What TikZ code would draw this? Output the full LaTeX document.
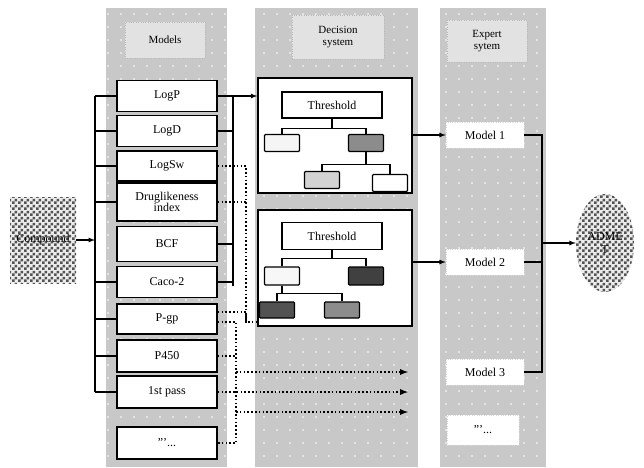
\documentclass[tikz,border=0pt]{standalone}
\usepackage{fontspec}
\setmainfont{Liberation Serif}
\usetikzlibrary{arrows,patterns.meta,shapes.geometric}

\definecolor{bandgray}{HTML}{C8C8C8}
\definecolor{headgray}{HTML}{E2E2E2}

\tikzdeclarepattern{
  name=checks, type=uncolored,
  bounding box={(0pt,0pt) and (6pt,6pt)},
  tile size={(6pt,6pt)},
  code={\fill (0pt,0pt) rectangle (3pt,3pt); \fill (3pt,3pt) rectangle (6pt,6pt);}
}

\begin{document}
\begin{tikzpicture}[x=1pt, y=-1pt, font=\rmfamily,
    headbox/.style={fill=headgray, draw=gray!55, dotted, align=center, font=\rmfamily\fontsize{11}{12}\selectfont, inner sep=0pt},
    modelbox/.style={draw, line width=1.4pt, fill=white, rectangle, minimum width=100pt, minimum height=31pt, inner sep=0pt, align=center, font=\rmfamily\fontsize{12}{12}\selectfont},
    expbox/.style={fill=white, draw=white!85!black, dotted, minimum width=78pt, minimum height=26pt, inner sep=0pt, font=\rmfamily\fontsize{12}{12}\selectfont},
    decbox/.style={draw, line width=1.4pt, fill=white, minimum width=154pt, inner sep=0pt},
    leaf/.style={draw, line width=1.2pt, rounded corners=1pt, minimum width=35pt, minimum height=17pt, inner sep=0pt},
    thrbox/.style={draw, line width=1.2pt, fill=white, minimum width=100pt, minimum height=26pt, inner sep=0pt, font=\rmfamily\fontsize{12}{12}\selectfont},
    checked/.style={fill=gray!15, postaction={pattern=checks, pattern color=gray!65!black}},
    link/.style={line width=1.2pt},
    dline/.style={line width=1.7pt, dash pattern=on 1.6pt off 2.2pt}]

\useasboundingbox (0,0) rectangle (644,467);

\fill[bandgray] (106,8) rectangle (227,467);
\fill[bandgray] (255,8) rectangle (418,467);
\fill[bandgray] (440,8) rectangle (546,467);
\begin{scope}
  \clip (106,8) rectangle (227,467) (255,8) rectangle (418,467) (440,8) rectangle (546,467);
  \foreach \y in {14,27,...,467}
    \foreach \x in {4,17,...,644}
      \fill[white] (\x,\y) circle (0.9);
\end{scope}

\node [headbox, minimum width=80pt, minimum height=36pt] (hmod) at (165,40) {Models};
\node [headbox, minimum width=92pt, minimum height=44pt] (hdec) at (338,37) {Decision\\system};
\node [headbox, minimum width=80pt, minimum height=42pt] (hexp) at (487,41) {Expert\\sytem};

\node [checked, minimum width=66pt, minimum height=86pt, inner sep=0pt, font=\rmfamily\fontsize{12}{12}\selectfont] (inp) at (43,240) {Compound};
\node [checked, ellipse, minimum width=58pt, minimum height=98pt, inner sep=0pt, align=center, font=\rmfamily\fontsize{12}{13}\selectfont] (outp) at (605,243) {ADME\\T};

\node [modelbox] (logp)  at (167,96)  {LogP};
\node [modelbox] (logd)  at (167,131) {LogD};
\node [modelbox, minimum height=30pt] (logsw) at (167,166) {LogSw};
\node [modelbox, minimum height=38pt, font=\rmfamily\fontsize{12}{11}\selectfont] (drug) at (167,202) {Druglikeness\\index};
\node [modelbox, minimum height=35pt] (bcf)   at (167,244) {BCF};
\node [modelbox] (caco)  at (167,282) {Caco-2};
\node [modelbox, minimum height=30pt] (pgp)   at (167,319) {P-gp};
\node [modelbox, minimum height=32pt] (p450)  at (167,356) {P450};
\node [modelbox, minimum height=32pt] (first) at (167,392) {1st pass};
\node [modelbox, minimum height=32pt] (etc)   at (167,443) {"'...};

\node [decbox, minimum height=115pt] (box1) at (335,135.5) {};
\node [thrbox] (thr1) at (332,105) {Threshold};
\node [leaf, fill=gray!8]  (d1l)  at (282,143) {};
\node [leaf, fill=gray!90] (d1r)  at (366,143) {};
\node [leaf, fill=gray!35] (d1rl) at (322,180) {};
\node [leaf, fill=white]   (d1rr) at (390,183) {};
\draw [link] (thr1.south) -- ++(0,10) -| (d1l.north);
\draw [link] (thr1.south) -- ++(0,10) -| (d1r.north);
\draw [link] (d1r.south) -- ++(0,12) -| (d1rl.north);
\draw [link] (d1r.south) -- ++(0,12) -| (d1rr.north);

\node [decbox, minimum height=116pt] (box2) at (335,268) {};
\node [thrbox, minimum height=27pt] (thr2) at (332,236) {Threshold};
\node [leaf, fill=gray!6, minimum height=18pt]  (d2l)  at (282,276) {};
\node [leaf, fill=black!75, minimum height=18pt] (d2r)  at (366,276) {};
\node [leaf, fill=black!68, minimum height=16pt] (d2ll) at (277,310) {};
\node [leaf, fill=black!45, minimum height=16pt] (d2lr) at (342,310) {};
\draw [link] (thr2.south) -- ++(0,8) -| (d2l.north);
\draw [link] (thr2.south) -- ++(0,8) -| (d2r.north);
\draw [link] (d2l.south) -- ++(0,8) -| (d2ll.north);
\draw [link] (d2l.south) -- ++(0,8) -| (d2lr.north);

\node [expbox] (mod1) at (485,135) {Model 1};
\node [expbox] (mod2) at (485,262) {Model 2};
\node [expbox] (mod3) at (485,372) {Model 3};
\node [expbox, minimum width=72pt, minimum height=30pt] (etc2) at (483,430) {"'...};

\coordinate (lbtop) at (95,96);
\coordinate (lbbot) at (95,392);
\draw [link] (lbtop) -- (lbbot);
\draw [-latex, link] (inp.east) -- (lbtop |- inp.east);
\foreach \m in {logp,logd,logsw,drug,caco,pgp,p450,first}
  \draw [link] (lbtop |- \m.west) -- (\m.west);

\coordinate (rbtop) at (233,96);
\coordinate (rbbot) at (233,286);
\draw [link] (rbtop) -- (rbbot);
\draw [-latex, link] (logp.east) -- (box1.west |- logp.east);
\foreach \m in {logd,bcf,caco}
  \draw [link] (\m.east) -- (rbtop |- \m.east);

\coordinate (dbtop) at (246,166);
\coordinate (dbbot) at (246,322);
\draw [dline] (logsw.east) -- (dbtop) -- (dbbot) -- (box2.west |- dbbot);
\draw [dline] (drug.east) -- (dbtop |- drug.east);
\draw [dline] ([yshift=7pt]pgp.east) -| (dbbot);

\coordinate (pbtop) at (236,326);
\draw [dline] ([yshift=-3pt]pgp.east) -| (pbtop) -- (pbtop |- etc.east) -- (etc.east);
\draw [dline] (p450.east) -- (pbtop |- p450.east);
\coordinate (a1) at (408,372);
\coordinate (a2) at (408,392);
\coordinate (a3) at (408,412);
\draw [dline, -latex] (pbtop |- a1) -- (a1);
\draw [dline, -latex] (first.east) -- (a2);
\draw [dline, -latex] (pbtop |- a3) -- (a3);

\draw [-latex, link] (box1.east |- mod1.west) -- (mod1.west);
\draw [-latex, link] (box2.east |- mod2.west) -- (mod2.west);

\coordinate (ebtop) at (542,135);
\coordinate (ebbot) at (542,372);
\draw [link] (mod1.east) -- (ebtop) -- (ebbot) -- (mod3.east);
\draw [link] (mod2.east) -- (ebtop |- mod2.east);
\draw [-latex, link] (ebtop |- outp.west) -- (outp.west);
\end{tikzpicture}
\end{document}
